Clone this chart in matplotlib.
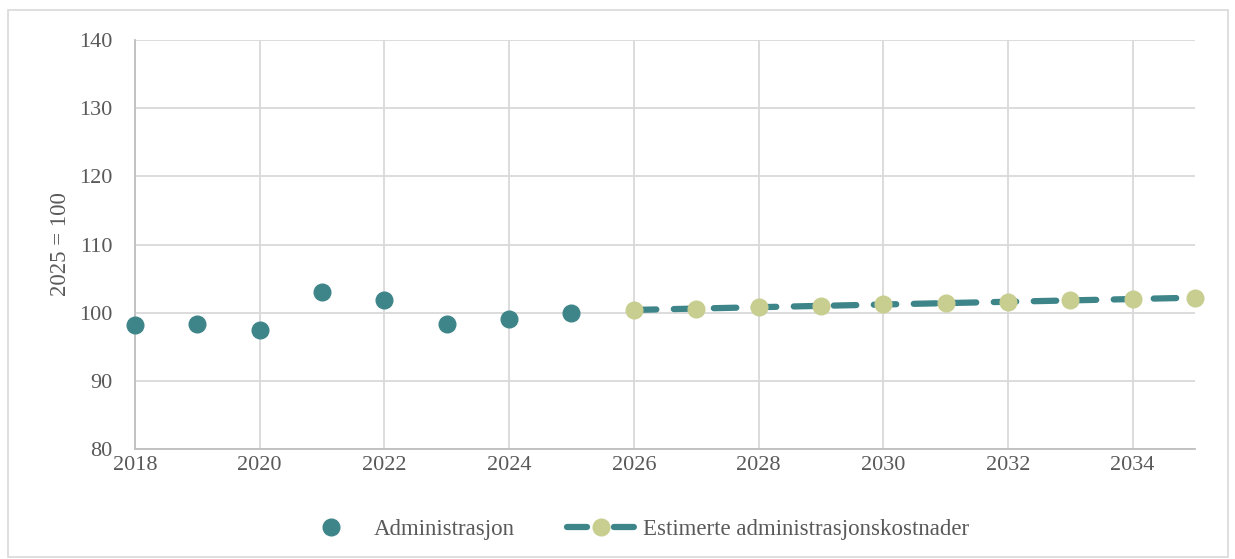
import matplotlib
matplotlib.use("Agg")
import matplotlib.pyplot as plt
from matplotlib.lines import Line2D
from matplotlib.patches import Rectangle

plt.rcParams['font.family'] = ['Liberation Serif', 'DejaVu Serif']

hist_years = [2018, 2019, 2020, 2021, 2022, 2023, 2024, 2025]
hist_values = [98.2, 98.3, 97.5, 103.0, 101.8, 98.3, 99.1, 99.9]

est_years = [2026, 2027, 2028, 2029, 2030, 2031, 2032, 2033, 2034, 2035]
est_values = [100.4, 100.6, 100.8, 101.0, 101.2, 101.4, 101.6, 101.8, 102.0, 102.2]

x_ticks = [2018, 2020, 2022, 2024, 2026, 2028, 2030, 2032, 2034]
y_ticks = [80, 90, 100, 110, 120, 130, 140]

teal = '#3E8589'
olive = '#C8CE8F'
grid_c = '#D9D9D9'
text_c = '#595959'

fig = plt.figure(figsize=(12.35, 5.59), dpi=100)
ax = fig.add_axes([135/1235, 1 - 449/559, (1195-135)/1235, (449-40)/559])

ax.set_xlim(2018, 2035)
ax.set_ylim(80, 140)
ax.set_xticks(x_ticks)
ax.set_yticks(y_ticks)
ax.grid(True, color=grid_c, linewidth=1.3)
ax.set_axisbelow(True)
for s in ['top', 'right']:
    ax.spines[s].set_visible(False)
for s in ['left', 'bottom']:
    ax.spines[s].set_color('#BFBFBF')
    ax.spines[s].set_linewidth(1.3)
ax.tick_params(length=0, labelsize=16, colors=text_c)
ax.tick_params(axis='y', pad=16)
ax.tick_params(axis='x', pad=5)
ax.set_ylabel('2025 = 100', fontsize=16.5, color=text_c, labelpad=6)

ax.plot(hist_years, hist_values, linestyle='none', marker='o', markersize=12,
        color=teal, clip_on=False, zorder=3)
ax.plot(est_years, est_values, linestyle=(0, (3.6, 2.8)), linewidth=4.5,
        color=teal, solid_capstyle='round', dash_capstyle='round',
        marker='o', markersize=12, markerfacecolor=olive, markeredgecolor=olive,
        clip_on=False, zorder=3)

handles = [
    Line2D([], [], linestyle='none', marker='o', markersize=12, color=teal),
    Line2D([], [], linestyle=(0, (3.2, 4.3)), linewidth=4.5, color=teal,
           dash_capstyle='round', marker='o', markersize=12,
           markerfacecolor=olive, markeredgecolor=olive),
]
leg = fig.legend(handles, ['Administrasjon', 'Estimerte administrasjonskostnader'],
                 loc='center', bbox_to_anchor=(0.513, 1 - 529/559), ncol=2,
                 frameon=False, fontsize=16.5, handlelength=2.9, columnspacing=2.3,
                 handletextpad=0.4, labelcolor=text_c)

fig.patches.append(Rectangle((8/1235, 1 - 557/559), (1228-8)/1235, (557-10)/559,
                             transform=fig.transFigure, fill=False,
                             edgecolor='#D9D9D9', linewidth=1.2))

fig.savefig('out.png', dpi=100)
